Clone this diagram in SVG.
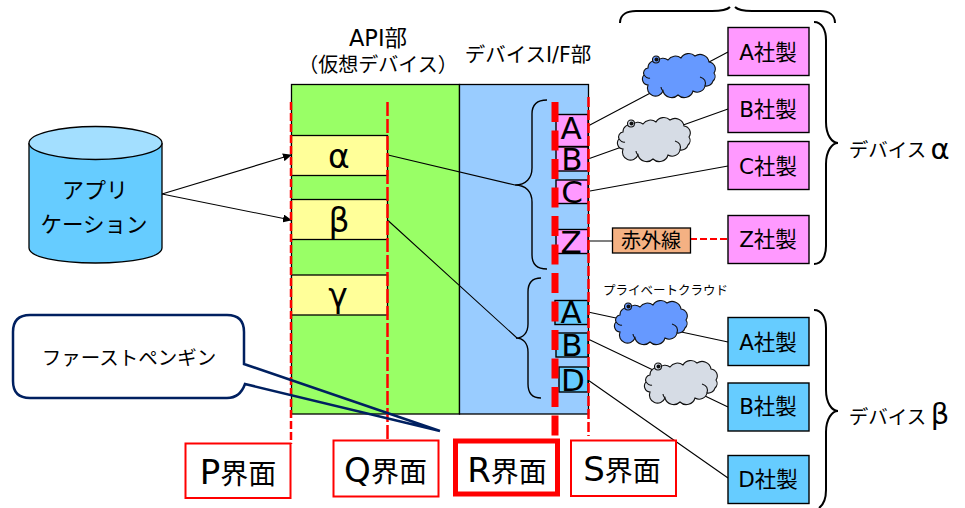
<svg xmlns="http://www.w3.org/2000/svg" width="965" height="508" viewBox="0 0 965 508">
<style>
text{font-family:"DejaVu Sans","Noto Sans CJK JP",sans-serif;fill:#000;text-anchor:middle}
.l{stroke:#000;stroke-width:1.1;fill:none}
.b{stroke:#000;stroke-width:1.4;fill:none}
.bb{stroke:#000;stroke-width:2;fill:none}
.y{fill:#ffff99;stroke:#000;stroke-width:1.3}
.pk{fill:#ff99ff;stroke:#000;stroke-width:1.4}
.cy{fill:#66ccff;stroke:#000;stroke-width:1.4}
.v{font-size:21.500px}
.big{font-size:31px}
.greek{font-size:33px}
.hd{font-size:20px}
.rb{fill:#fff;stroke:#ff0000;stroke-width:2}
.if{font-size:28px}
.lat{font-size:34px}
.rd{stroke:#ff0000;fill:none}
.cl{stroke:#111;stroke-width:1.100}
.cr{stroke:#111;stroke-width:1.100;fill:none}
</style>
<defs>
<marker id="arr" markerWidth="9" markerHeight="8" refX="8" refY="4" orient="auto" markerUnits="userSpaceOnUse"><path d="M0,0L9,4L0,8z" fill="#000"/></marker>
<g id="cloud">
<path class="cl" d="M5,13A7,7 0 0 1 14,6A8,8 0 0 1 25,5A9,9 0 0 1 38,3A9,9 0 0 1 52,1A9,9 0 0 1 66,7A7,7 0 0 1 71,18A6,6 0 0 1 70,26A7,7 0 0 1 62,31A8,8 0 0 1 50,36A9,9 0 0 1 35,40A9,9 0 0 1 20,36A8,8 0 0 1 5,30A6,6 0 0 1 1,20A5,5 0 0 1 5,13Z"/>
<path class="cr" d="M57,22Q64,24 62,31M1,20Q4,24 7,23M20,36Q18,34 18,32"/>
<circle cx="13" cy="4.500" r="3.500" class="cl"/>
<circle cx="13.500" cy="4.500" r="2" fill="#111"/>
</g>
</defs>

<g id="device-panels">
<rect id="api" x="291.500" y="84.500" width="168" height="329.500" fill="#99ff66" stroke="#000" stroke-width="1.300"/>
<rect id="if" x="459.500" y="84.500" width="129" height="329.500" fill="#99ccff" stroke="#000" stroke-width="1.300"/>
</g>

<g id="connectors">
<path class="l" d="M588,126L728,52M588,159L728,109M590,191L728,166M588,241H612M588,312L728,342M588,339L653,370M705,396L728,407M588,380L728,478"/>
<path class="rd" stroke-width="2" stroke-dasharray="7 3" d="M690,239H728"/>
<path class="l" d="M162,194L291,155" marker-end="url(#arr)"/>
<path class="l" d="M162,194L291,220" marker-end="url(#arr)"/>
<path class="l" d="M388,155L515,185M388,220.500L517,338"/>
</g>

<g id="app">
<path d="M29,143V248C29,257 58,263 95.500,263C133,263 162,257 162,248V143" fill="#66ccff" stroke="#000" stroke-width="1.300"/>
<ellipse cx="95.500" cy="143" rx="66.500" ry="16.500" fill="#a3dfff" stroke="#000" stroke-width="1.300"/>
<text x="95" y="198" font-size="22">アプリ</text>
<text x="94" y="232" font-size="21.500">ケーション</text>
</g>

<g id="alpha"><rect class="y" x="291.500" y="135.500" width="96" height="40"/><text class="greek" x="339" y="168">α</text></g>
<g id="beta"><rect class="y" x="291.500" y="199.500" width="96" height="40"/><text class="greek" x="339" y="232">β</text></g>
<g id="gamma"><rect class="y" x="291.500" y="275" width="96" height="40"/><text class="greek" x="338" y="307">γ</text></g>

<g id="if-a1"><rect class="pk" x="556" y="114.500" width="32" height="32"/><text class="big" x="571" y="139">A</text></g>
<g id="if-b1"><rect class="pk" x="556" y="147" width="32" height="24"/><text class="big" x="572" y="170">B</text></g>
<g id="if-c1"><rect class="pk" x="556" y="180" width="32" height="23.500"/><text class="big" x="572" y="203">C</text></g>
<g id="if-z1"><rect class="pk" x="556" y="229.500" width="32" height="24"/><text class="big" x="571" y="253">Z</text></g>
<g id="if-a2"><rect class="cy" x="555" y="300.500" width="33" height="24"/><text class="big" x="571" y="323">A</text></g>
<g id="if-b2"><rect class="cy" x="556" y="333" width="32" height="24"/><text class="big" x="572" y="356">B</text></g>
<g id="if-d2"><rect class="cy" x="559" y="367" width="29" height="25"/><text class="big" x="573" y="391">D</text></g>

<g id="brace-if-alpha"><path class="b" d="M547,100C538,100 532,104 532,114V168C532,178 526,185 515,185C526,185 532,192 532,202V255C532,265 538,269 547,269"/></g>
<g id="brace-if-beta"><path class="b" d="M541,278C533,278 528,282 528,292V324C528,333 523,338 516,338C523,338 528,343 528,352V384C528,394 533,398 541,398"/></g>

<g id="cloud1"><use href="#cloud" x="643" y="55" fill="#6699ff"/></g>
<g id="cloud2"><use href="#cloud" x="618" y="119" fill="#d6dce5"/></g>
<g id="cloud3"><use href="#cloud" x="615" y="302" fill="#6699ff"/></g>
<g id="cloud4"><use href="#cloud" x="645" y="362" fill="#d6dce5"/></g>
<text x="665.500" y="295" font-size="12.500">プライベートクラウド</text>

<g id="ir"><rect x="612.500" y="228" width="78" height="25" fill="#f4b183" stroke="#000" stroke-width="1.300"/><text x="651" y="247.500" font-size="20">赤外線</text></g>

<g id="v-a1"><rect class="pk" x="728" y="27.500" width="81" height="48"/><text class="v" x="768" y="60">A社製</text></g>
<g id="v-b1"><rect class="pk" x="728" y="84.500" width="81" height="48"/><text class="v" x="768" y="117">B社製</text></g>
<g id="v-c1"><rect class="pk" x="728" y="141.500" width="81" height="48"/><text class="v" x="768" y="174">C社製</text></g>
<g id="v-z1"><rect class="pk" x="728" y="215.500" width="81" height="48"/><text class="v" x="768" y="247">Z社製</text></g>
<g id="v-a2"><rect class="cy" x="728" y="317.500" width="81" height="48"/><text class="v" x="768" y="350">A社製</text></g>
<g id="v-b2"><rect class="cy" x="728" y="383" width="81" height="48"/><text class="v" x="768" y="414">B社製</text></g>
<g id="v-d2"><rect class="cy" x="728" y="455.500" width="81" height="48"/><text class="v" x="768" y="487">D社製</text></g>

<g id="brace-top"><path class="bb" d="M620,23C620,14 628,11 636,11H712C722,11 727,10 730,7M735,7C738,10 743,11 752,11H820C829,11 835,15 835,23"/></g>
<g id="brace-alpha"><path class="bb" d="M814,22C822,22 826,30 826,40V122C826,135 832,143 838,143C832,143 826,151 826,164V246C826,256 822,264 814,264"/></g>
<g id="brace-beta"><path class="bb" d="M814,310C822,310 826,318 826,328V390C826,403 832,411 838,411C832,411 826,419 826,432V490C826,500 823,505 819,508"/></g>
<text x="887.500" y="157" font-size="19.500">デバイス</text><text x="940" y="159" font-size="29">α</text>
<text x="887.500" y="424" font-size="19.500">デバイス</text><text x="940" y="424" font-size="29">β</text>

<g id="heads">
<text x="378" y="46" font-size="22.500">API部</text>
<text class="hd" x="378" y="72">（仮想デバイス）</text>
<text x="528" y="62" font-size="20.500">デバイスI/F部</text>
</g>

<g id="interfaces-lines">
<path class="rd" stroke-width="2.500" stroke-dasharray="8 3" d="M291,102V444"/>
<path class="rd" stroke-width="2.500" stroke-dasharray="14 3" d="M387.500,102V440"/>
<path class="rd" stroke-width="7" stroke-dasharray="20 8.500" d="M555,102V436"/>
<path class="rd" stroke-width="2.500" stroke-dasharray="10 3" d="M588.500,97V436"/>
</g>

<g id="callout">
<path d="M30,315H227Q244,315 244,332V364L245,384Q240,398 227,398H30Q13,398 13,381V332Q13,315 30,315Z" fill="#fff"/>
<path d="M440,431L244,364V332Q244,315 227,315H30Q13,315 13,332V381Q13,398 30,398H227Q240,398 245,384L440,431" fill="none" stroke="#002060" stroke-width="2.500"/>
<text x="129" y="365" font-size="19.500">ファーストペンギン</text>
</g>

<g id="if-p"><rect class="rb" x="185.500" y="443.500" width="105" height="54.500"/><text class="if" x="238" y="484"><tspan class="lat">P</tspan>界面</text></g>
<g id="if-q"><rect class="rb" x="333.500" y="440.500" width="105" height="56"/><text class="if" x="385.500" y="482"><tspan class="lat">Q</tspan>界面</text></g>
<g id="if-r"><rect class="rb" style="stroke-width:5" x="455.500" y="441" width="102" height="53"/><text class="if" x="507" y="482"><tspan class="lat">R</tspan>界面</text></g>
<g id="if-s"><rect class="rb" x="571" y="440.500" width="105" height="55.500"/><text class="if" x="622" y="481"><tspan class="lat">S</tspan>界面</text></g>
</svg>
